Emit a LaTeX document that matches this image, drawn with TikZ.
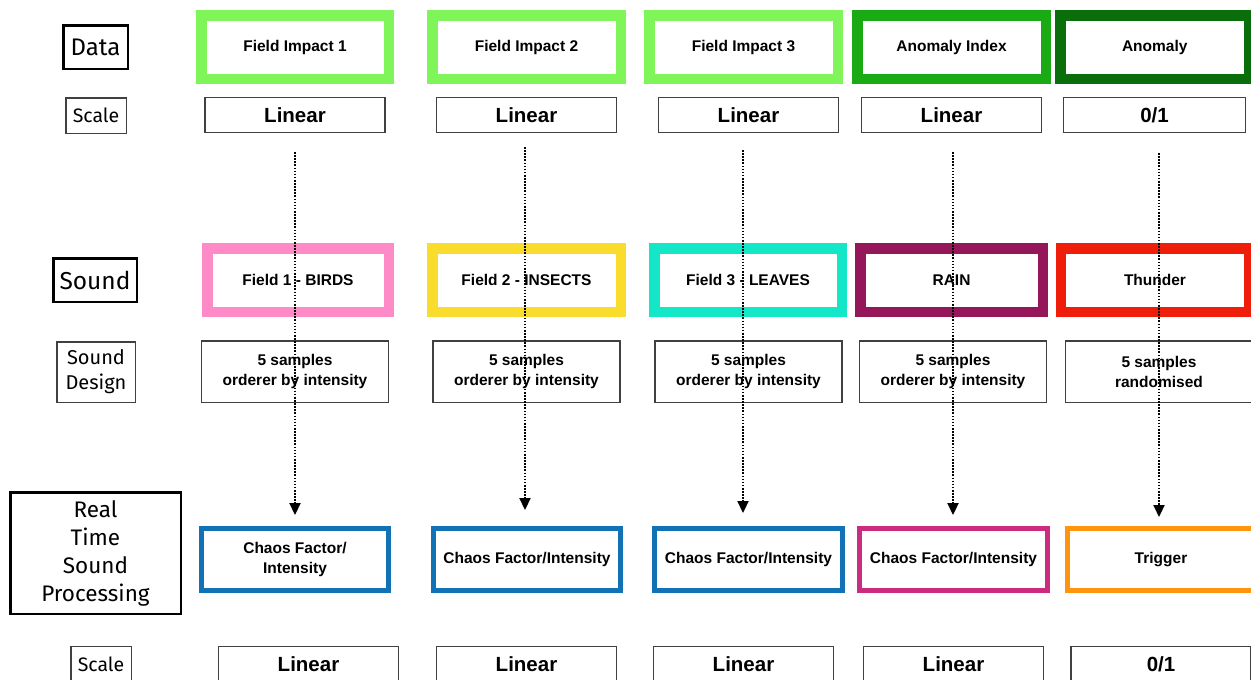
\documentclass[tikz,border=0pt]{standalone}
\usepackage{fontspec}
\setmainfont{Liberation Sans}
\newfontfamily\labfont{Fira Sans}
\usetikzlibrary{arrows.meta}
\definecolor{fgreen}{HTML}{80F55A}
\definecolor{agreen}{HTML}{1AAA14}
\definecolor{dgreen}{HTML}{0A6E0A}
\definecolor{cpink}{HTML}{FF8AC8}
\definecolor{cyell}{HTML}{F9DC2C}
\definecolor{ccyan}{HTML}{14E6C8}
\definecolor{cplum}{HTML}{96165A}
\definecolor{cred}{HTML}{EE1E0A}
\definecolor{cblue}{HTML}{1272B6}
\definecolor{cmag}{HTML}{CC2C7E}
\definecolor{corange}{HTML}{FF9410}
\definecolor{edge}{HTML}{404040}
\begin{document}
\begin{tikzpicture}[x=1pt,y=-1pt,
  fatbox/.style={draw=#1, line width=10.5pt, inner sep=0pt, minimum height=63.5pt, font=\bfseries\fontsize{15.5}{19}\selectfont, fill=white},
  procbox/.style={draw=#1, line width=5pt, inner sep=0pt, minimum height=62pt, font=\bfseries\fontsize{15.5}{20}\selectfont, align=center, fill=white},
  scalebox/.style={draw=edge, line width=1.5pt, inner sep=0pt, minimum height=35pt, minimum width=180pt, font=\bfseries\fontsize{20.5}{24}\selectfont},
  sdbox/.style={draw=edge, line width=1.5pt, inner sep=0pt, minimum height=61.5pt, minimum width=187pt, font=\bfseries\fontsize{15.5}{20}\selectfont, align=center},
  labthick/.style={draw=black, line width=2.5pt, inner sep=0pt, align=center},
  labthin/.style={draw=edge, line width=1.5pt, inner sep=0pt, align=center},
  dotarrow/.style={line width=2.2pt, dash pattern=on 1.6pt off 1.5pt, -{Triangle[length=12pt,width=11pt]}}
]
\useasboundingbox (0,0) rectangle (1251,680);
\clip (0,0) rectangle (1251,680);
\fill[white] (0,0) rectangle (1251,680);

% row labels
\node[labthick, minimum width=64.5pt, minimum height=43.5pt, font=\labfont\fontsize{24}{27}\selectfont] (ldata) at (95.5,47) {Data};
\node[labthin, minimum width=60.5pt, minimum height=35.5pt, font=\labfont\fontsize{19.5}{23}\selectfont] (lscale1) at (96,115.5) {Scale};
\node[labthick, minimum width=83.5pt, minimum height=43.5pt, font=\labfont\fontsize{24.5}{28}\selectfont] (lsound) at (95,280) {Sound};
\node[labthin, minimum width=78.5pt, minimum height=60.5pt, font=\labfont\fontsize{20}{25}\selectfont] (lsd) at (96,372) {Sound\\Design};
\node[labthick, minimum width=170.5pt, minimum height=121.5pt, font=\labfont\fontsize{22.5}{28}\selectfont] (lrt) at (95.5,553) {Real\\Time\\Sound\\Processing};
\node[labthin, minimum width=60.5pt, minimum height=35.5pt, font=\labfont\fontsize{19.5}{23}\selectfont] (lscale2) at (101,664) {Scale};

% data row
\node[fatbox=fgreen, minimum width=187.5pt] (d1) at (295,47) {Field Impact 1};
\node[fatbox=fgreen, minimum width=188.5pt] (d2) at (526.5,47) {Field Impact 2};
\node[fatbox=fgreen, minimum width=188.5pt] (d3) at (743.5,47) {Field Impact 3};
\node[fatbox=agreen, minimum width=188.5pt] (d4) at (951.5,47) {Anomaly Index};
\node[fatbox=dgreen, minimum width=189pt] (d5) at (1154.75,47) {Anomaly};

% scale row 1
\node[scalebox] (s1) at (295,115) {Linear};
\node[scalebox] (s2) at (526.5,115) {Linear};
\node[scalebox] (s3) at (748.5,115) {Linear};
\node[scalebox] (s4) at (951.5,115) {Linear};
\node[scalebox, minimum width=182pt] (s5) at (1154.5,115) {0/1};

% sound row
\node[fatbox=cpink, minimum width=181.5pt] (n1) at (298,280) {Field 1 - BIRDS};
\node[fatbox=cyell, minimum width=188.5pt] (n2) at (526.5,280) {Field 2 - INSECTS};
\node[fatbox=ccyan, minimum width=187.5pt] (n3) at (748,280) {Field 3 - LEAVES};
\node[fatbox=cplum, minimum width=182.5pt] (n4) at (951.5,280) {RAIN};
\node[fatbox=cred, minimum width=188pt] (n5) at (1155,280) {Thunder};

% sound design row
\node[sdbox] (sd1) at (295,371.5) {5 samples\\orderer by intensity};
\node[sdbox] (sd2) at (526.5,371.5) {5 samples\\orderer by intensity};
\node[sdbox] (sd3) at (748.5,371.5) {5 samples\\orderer by intensity};
\node[sdbox] (sd4) at (953,371.5) {5 samples\\orderer by intensity};
\node[sdbox] (sd5) at (1159,371.5) {5 samples\\randomised};

% processing row
\node[procbox=cblue, minimum width=187pt] (p1) at (295,559.5) {Chaos Factor/\\Intensity};
\node[procbox=cblue, minimum width=187pt] (p2) at (527,559.5) {Chaos Factor/Intensity};
\node[procbox=cblue, minimum width=188pt] (p3) at (748.5,559.5) {Chaos Factor/Intensity};
\node[procbox=cmag, minimum width=188pt] (p4) at (953.5,559.5) {Chaos Factor/Intensity};
\node[procbox=corange, minimum width=187pt] (p5) at (1161,559.5) {Trigger};

% scale row 2
\node[scalebox] (b1) at (308.5,664) {Linear};
\node[scalebox] (b2) at (526.5,664) {Linear};
\node[scalebox] (b3) at (743.5,664) {Linear};
\node[scalebox] (b4) at (953.5,664) {Linear};
\node[scalebox] (b5) at (1161,664) {0/1};

% arrows
\coordinate (a1s) at (295,152);  \coordinate (a1e) at (295,515);
\coordinate (a2s) at (525,147);  \coordinate (a2e) at (525,510);
\coordinate (a3s) at (743,150);  \coordinate (a3e) at (743,513);
\coordinate (a4s) at (953,152);  \coordinate (a4e) at (953,515);
\coordinate (a5s) at (1159,153); \coordinate (a5e) at (1159,517);
\draw[dotarrow] (a1s) -- (a1e);
\draw[dotarrow] (a2s) -- (a2e);
\draw[dotarrow] (a3s) -- (a3e);
\draw[dotarrow] (a4s) -- (a4e);
\draw[dotarrow] (a5s) -- (a5e);
\end{tikzpicture}
\end{document}
